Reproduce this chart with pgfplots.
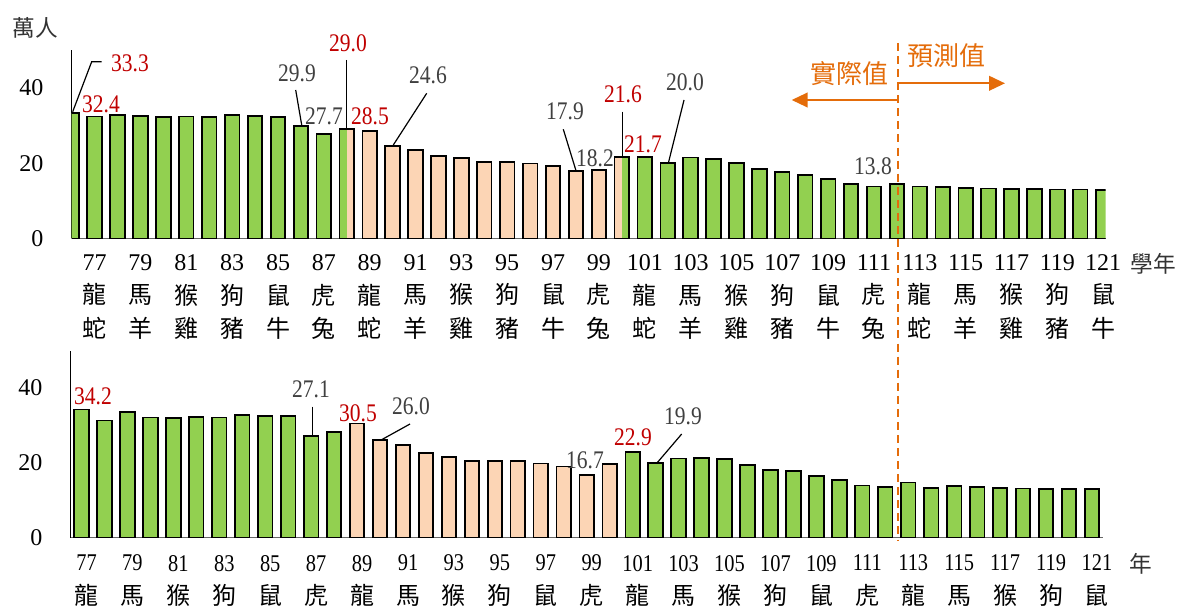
\documentclass[border=0pt]{standalone}
\usepackage{pgfplots}
\pgfplotsset{compat=1.18}
\usetikzlibrary{arrows.meta}
\usepackage{fontspec}
\setmainfont{Liberation Serif}
\newfontfamily\cjk{Noto Sans CJK TC}
\newfontfamily\cond[FakeStretch=0.85]{Liberation Serif}
\definecolor{bgreen}{HTML}{92D050}
\definecolor{bpeach}{HTML}{FCD5B5}
\definecolor{ared}{HTML}{C00000}
\definecolor{agray}{HTML}{404040}
\definecolor{aorange}{HTML}{E46C0A}
\newcommand{\tl}[3]{#1\\{\cjk #2}\\{\cjk #3}}
\newcommand{\bl}[2]{{\cond #1}\\{\cjk #2}}
\newcommand{\ann}{\fontsize{19}{22}\cond}
\pgfplotsset{
  panel/.style={scale only axis, ymin=0, ymax=50, ytick={0,20,40},
    axis x line*=bottom, axis y line*=left,
    x axis line style={-, draw=black!60, line width=1.2pt},
    y axis line style={-, draw=black, line width=0.9pt},
    major tick length=0pt, tick style={draw=none},
    /pgf/number format/assume math mode=true,
    yticklabel style={font=\fontsize{18}{22}\selectfont, anchor=east, inner sep=0pt, xshift=-21pt},
    xticklabel style={font=\fontsize{18}{25}\selectfont, align=center, anchor=north, inner sep=0pt},
  },
  gbar/.style={ybar, bar width=10.9pt, bar shift=0pt, fill=bgreen, draw=black, line width=1.35pt},
  pbar/.style={ybar, bar width=10.9pt, bar shift=0pt, fill=bpeach, draw=black, line width=1.35pt},
  obar/.style={ybar, bar width=10.9pt, bar shift=0pt, fill=none, draw=black, line width=1.35pt},
}
\begin{document}
\begin{tikzpicture}
\path[use as bounding box] (0,0) rectangle (885pt,456pt);
% ---------- top panel (school years) ----------
\begin{axis}[panel, at={(53.78pt,277.13pt)}, anchor=south west,
  width=775.5pt, height=141.2pt, xmin=77, xmax=122.11,
  xtick={78,80,...,122},
  xticklabel style={yshift=-12pt},
  xticklabels={\tl{77}{龍}{蛇},\tl{79}{馬}{羊},\tl{81}{猴}{雞},\tl{83}{狗}{豬},\tl{85}{鼠}{牛},\tl{87}{虎}{兔},
    \tl{89}{龍}{蛇},\tl{91}{馬}{羊},\tl{93}{猴}{雞},\tl{95}{狗}{豬},\tl{97}{鼠}{牛},\tl{99}{虎}{兔},
    \tl{101}{龍}{蛇},\tl{103}{馬}{羊},\tl{105}{猴}{雞},\tl{107}{狗}{豬},\tl{109}{鼠}{牛},\tl{111}{虎}{兔},
    \tl{113}{龍}{蛇},\tl{115}{馬}{羊},\tl{117}{猴}{雞},\tl{119}{狗}{豬},\tl{121}{鼠}{牛}}]
\addplot[gbar] coordinates {(77,33.3)(78,32.4)(79,32.9)(80,32.5)(81,32.2)(82,32.4)(83,32.35)(84,32.8)(85,32.5)(86,32.35)(87,29.9)(88,27.7)(89,29.0)
  (101,21.6)(102,21.7)(103,20.0)(104,21.5)(105,21.1)(106,20.0)(107,18.5)(108,17.6)(109,16.8)(110,15.8)(111,14.5)(112,13.8)
  (113,14.4)(114,13.8)(115,13.6)(116,13.5)(117,13.3)(118,13.2)(119,13.1)(120,13.0)(121,13.0)(122,12.8)};
\addplot[pbar] coordinates {(90,28.5)(91,24.6)(92,23.4)(93,21.9)(94,21.3)(95,20.4)(96,20.3)(97,19.9)(98,19.35)(99,17.9)(100,18.2)};
\addplot[ybar, bar width=5.45pt, bar shift=2.725pt, fill=bpeach, draw=none] coordinates {(89,29.0)};
\addplot[ybar, bar width=5.45pt, bar shift=-2.725pt, fill=bpeach, draw=none] coordinates {(101,21.6)};
\addplot[obar] coordinates {(89,29.0)(101,21.6)};
\end{axis}
% ---------- bottom panel (calendar years) ----------
\begin{axis}[panel, at={(53.03pt,52.88pt)}, anchor=south west,
  width=774.2pt, height=140.25pt, xmin=76.53, xmax=121.48,
  xtick={77,79,...,121},
  xticklabel style={yshift=-13pt, xshift=3.75pt},
  xticklabels={\bl{77}{龍},\bl{79}{馬},\bl{81}{猴},\bl{83}{狗},\bl{85}{鼠},\bl{87}{虎},
    \bl{89}{龍},\bl{91}{馬},\bl{93}{猴},\bl{95}{狗},\bl{97}{鼠},\bl{99}{虎},
    \bl{101}{龍},\bl{103}{馬},\bl{105}{猴},\bl{107}{狗},\bl{109}{鼠},\bl{111}{虎},
    \bl{113}{龍},\bl{115}{馬},\bl{117}{猴},\bl{119}{狗},\bl{121}{鼠}}]
\addplot[gbar] coordinates {(77,34.2)(78,31.3)(79,33.5)(80,32.1)(81,32.0)(82,32.3)(83,32.1)(84,32.8)(85,32.4)(86,32.4)(87,27.1)(88,28.2)
  (101,22.9)(102,19.9)(103,21.1)(104,21.3)(105,20.9)(106,19.4)(107,18.1)(108,17.7)(109,16.4)(110,15.3)(111,13.9)(112,13.5)
  (113,14.7)(114,13.2)(115,13.8)(116,13.4)(117,13.3)(118,13.1)(119,13.05)(120,13.0)(121,12.9)};
\addplot[pbar] coordinates {(89,30.5)(90,26.0)(91,24.8)(92,22.7)(93,21.5)(94,20.5)(95,20.4)(96,20.4)(97,19.8)(98,19.0)(99,16.7)(100,19.6)};
\end{axis}
% ---------- annotations (pixel grid, y downwards) ----------
\begin{scope}[x=0.75pt,y=-0.75pt,yshift=456pt]
\node[font=\fontsize{17}{20}\cjk, text=black!80, inner sep=0pt] at (35.5,28) {萬人};
\node[font=\fontsize{17}{20}\cjk, text=black!80, inner sep=0pt] at (1153,264) {學年};
\node[font=\fontsize{17}{20}\cjk, text=black!80, inner sep=0pt] at (1141,564) {年};
% leaders
\draw[black, line width=0.9pt] (72.7,111.7) -- (91.7,61.7) -- (101.7,61.7);
\draw[black, line width=0.9pt] (295.7,90) -- (301.7,125);
\draw[black, line width=0.9pt] (346.7,60) -- (346.7,128);
\draw[black, line width=0.9pt] (426.7,93.3) -- (393.3,145);
\draw[black, line width=0.9pt] (563.3,129.3) -- (576,170.7);
\draw[black, line width=0.9pt] (622.3,111.7) -- (622.3,156.7);
\draw[black, line width=0.9pt] (684,100) -- (668.3,163.3);
\draw[black, line width=0.9pt] (312.3,406.7) -- (312.3,436.7);
\draw[black, line width=0.9pt] (410,424) -- (382,439.5);
\draw[black, line width=0.9pt] (681.7,434) -- (656.7,463.3);
% value labels top
\node[text=ared, font=\ann, inner sep=0pt] at (130,63.5) {33.3};
\node[text=ared, font=\ann, inner sep=0pt] at (101,104) {32.4};
\node[text=agray, font=\ann, inner sep=0pt] at (297,73) {29.9};
\node[text=agray, font=\ann, inner sep=0pt] at (324,116) {27.7};
\node[text=ared, font=\ann, inner sep=0pt] at (348,43) {29.0};
\node[text=ared, font=\ann, inner sep=0pt] at (370,116) {28.5};
\node[text=agray, font=\ann, inner sep=0pt] at (428,75) {24.6};
\node[text=agray, font=\ann, inner sep=0pt] at (565,111) {17.9};
\node[text=agray, font=\ann, inner sep=0pt] at (595,158) {18.2};
\node[text=ared, font=\ann, inner sep=0pt] at (623,94) {21.6};
\node[text=ared, font=\ann, inner sep=0pt] at (643,144) {21.7};
\node[text=agray, font=\ann, inner sep=0pt] at (685,82) {20.0};
\node[text=agray, font=\ann, inner sep=0pt] at (873,166) {13.8};
% value labels bottom
\node[text=ared, font=\ann, inner sep=0pt] at (93,396) {34.2};
\node[text=agray, font=\ann, inner sep=0pt] at (311,389) {27.1};
\node[text=ared, font=\ann, inner sep=0pt] at (358,413) {30.5};
\node[text=agray, font=\ann, inner sep=0pt] at (411,406) {26.0};
\node[text=agray, font=\ann, inner sep=0pt] at (585,460.5) {16.7};
\node[text=ared, font=\ann, inner sep=0pt] at (633,437) {22.9};
\node[text=agray, font=\ann, inner sep=0pt] at (683,416) {19.9};
% actual / forecast divider
\draw[aorange, line width=1.5pt, dash pattern=on 6pt off 3.8pt] (897.7,43) -- (897.7,540);
\draw[aorange, line width=1.5pt, -{Triangle[length=12pt,width=11pt]}] (897.7,100) -- (791.7,100);
\draw[aorange, line width=1.5pt, -{Triangle[length=12pt,width=11pt]}] (897.7,83.3) -- (1005,83.3);
\node[text=aorange, font=\fontsize{19.5}{22}\cjk, inner sep=0pt] at (849,74) {實際值};
\node[text=aorange, font=\fontsize{19.5}{22}\cjk, inner sep=0pt] at (946,56) {預測值};
\end{scope}
\end{tikzpicture}
\end{document}
